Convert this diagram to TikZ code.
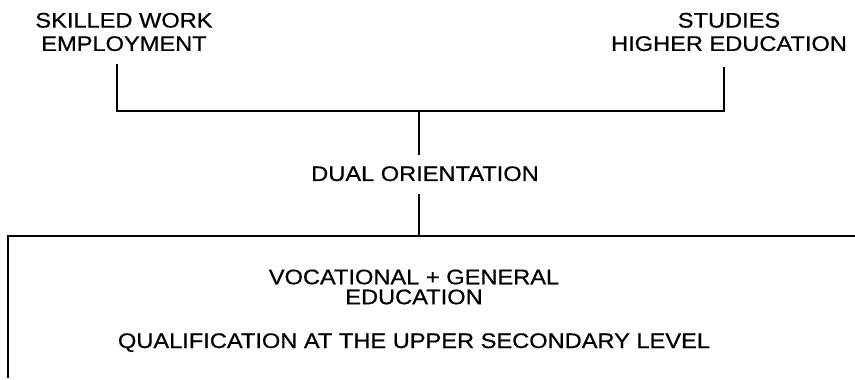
\documentclass[tikz,border=0pt]{standalone}
\usepackage{fontspec}
\setmainfont[FakeStretch=1.12, FakeBold=0.6]{Liberation Sans}
\usetikzlibrary{positioning}

\tikzset{
    caption/.style={font=\fontsize{15}{16.6}\selectfont, align=center, inner sep=0pt},
    link/.style={black, line width=1.3pt}
}

\begin{document}
\begin{tikzpicture}[x=0.025cm, y=-0.025cm]
        \useasboundingbox (0,0) rectangle (855,380);

        \node [caption] (skilled) at (124,32) {SKILLED WORK\\EMPLOYMENT};
        \node [caption] (studies) at (729,32) {STUDIES\\HIGHER EDUCATION};
        \node [caption, anchor=base] (dual) at (425,181) {DUAL ORIENTATION};
        \node [caption, font=\fontsize{15}{14.2}\selectfont] (vocational) at (414,287) {VOCATIONAL + GENERAL\\EDUCATION};
        \node [caption, anchor=base] (qualification) at (414,348) {QUALIFICATION AT THE UPPER SECONDARY LEVEL};

        \coordinate (jl) at (117,111);
        \coordinate (jm) at (419,111);
        \coordinate (jr) at (724,111);
        \coordinate (jb) at (419,236);
        \coordinate (bl) at (8,378);
        \coordinate (br) at (855,236);

        \draw [link] ([yshift=-9pt]skilled.south -| jl) to (jl) to (jr) to ([yshift=-11pt]studies.south -| jr);
        \draw [link] (jm) to ([yshift=8pt]dual.north -| jm);
        \draw [link] ([yshift=-9pt]dual.south -| jb) to (jb);
        \draw [link] (bl) to (bl |- br) to (br);
\end{tikzpicture}
\end{document}
